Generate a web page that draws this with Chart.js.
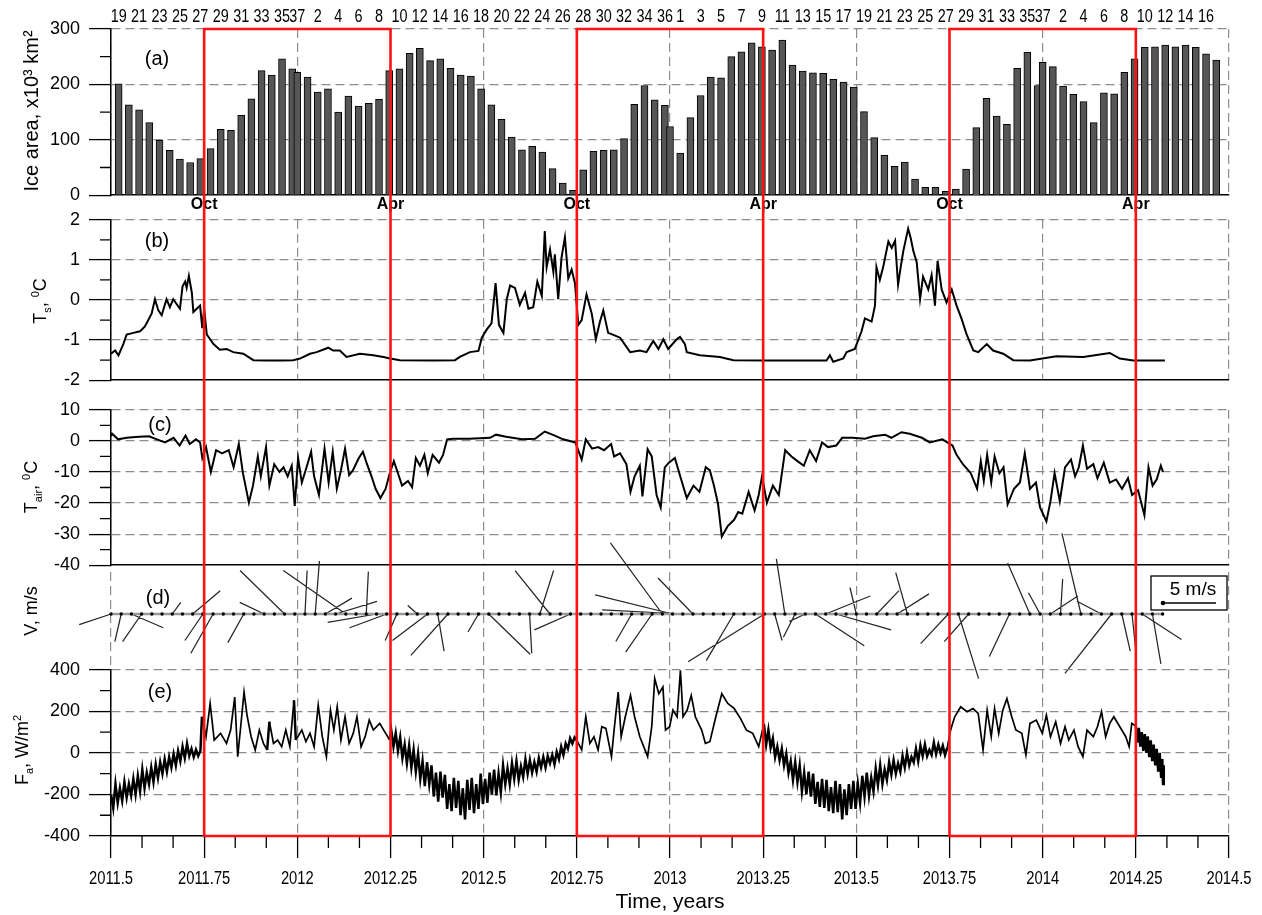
<!DOCTYPE html>
<html>
<head>
<meta charset="utf-8">
<title>Ice area, water and air temperature, wind and heat flux</title>
<script src="https://cdn.jsdelivr.net/npm/chart.js@4.4.1/dist/chart.umd.min.js"></script>
<style>
  html, body { margin: 0; padding: 0; background: #ffffff; }
  #wrap { position: relative; width: 1262px; height: 915px; overflow: hidden; background: #ffffff; }
  #wrap canvas { position: absolute; left: 0; }
</style>
</head>
<body>
<div id="wrap"></div>
<script>
// ======================= DATA =======================
const iceBlocks = [[2011, 19, 37], [2012, 1, 37], [2013, 1, 37], [2014, 1, 17]];
const iceArea = [
  201,163,154,131,99,81,65,59,66,84,119,117,144,174,225,217,246,228,222,
  213,186,192,150,179,161,166,173,225,228,256,265,243,246,229,217,215,192,163,137,105,82,88,78,48,22,9,46,79,81,82,102,164,198,172,162,124,
  76,140,180,213,212,250,259,275,268,262,280,235,224,221,220,209,204,195,151,104,72,52,60,29,14,14,7,11,47,122,175,143,128,229,258,198,240,
  232,197,182,169,131,185,183,222,246,267,268,271,268,271,267,255,244
];

const tsYear = [
  2011.500,2011.511,2011.520,2011.533,2011.542,2011.560,2011.578,2011.591,2011.609,2011.618,
  2011.627,2011.636,2011.649,2011.658,2011.667,2011.676,2011.685,2011.692,2011.699,2011.703,
  2011.709,2011.717,2011.721,2011.730,2011.739,2011.745,2011.750,2011.757,2011.775,2011.792,
  2011.810,2011.828,2011.855,2011.882,2011.918,2011.962,2011.989,2012.007,2012.034,2012.052,
  2012.083,2012.096,2012.114,2012.132,2012.168,2012.204,2012.231,2012.249,2012.275,
  2012.365,2012.423,2012.436,2012.463,2012.486,2012.495,2012.508,2012.521,2012.532,2012.541,
  2012.553,2012.562,2012.571,2012.584,2012.597,2012.611,2012.620,2012.633,2012.644,2012.656,
  2012.664,2012.669,2012.678,2012.687,2012.691,2012.700,2012.709,2012.718,2012.727,2012.736,
  2012.745,2012.754,2012.763,2012.776,2012.790,2012.801,2012.812,2012.821,2012.834,2012.848,
  2012.866,2012.893,2012.919,2012.937,2012.955,2012.969,2012.982,2012.995,2013.018,2013.027,
  2013.040,2013.045,2013.080,2013.134,2013.170,2013.259,2013.420,2013.429,2013.438,
  2013.465,2013.474,2013.496,2013.514,2013.523,2013.541,2013.550,2013.554,2013.563,2013.572,
  2013.586,2013.595,2013.604,2013.612,2013.619,2013.626,2013.639,2013.646,2013.653,2013.662,
  2013.671,2013.679,2013.693,2013.702,2013.711,2013.718,2013.729,2013.742,2013.756,2013.769,
  2013.782,2013.796,2013.814,2013.827,2013.850,2013.867,2013.894,2013.921,2013.966,2014.037,
  2014.109,2014.180,2014.207,2014.243,2014.328
];
const tsValue = [
  -1.34,-1.26,-1.38,-1.10,-0.86,-0.82,-0.78,-0.66,-0.34,0.02,
  -0.26,-0.38,0.02,-0.18,0.02,-0.10,-0.22,0.34,0.46,0.30,
  0.60,0.18,-0.30,-0.22,-0.14,-0.70,-0.22,-0.86,-1.10,-1.24,
  -1.22,-1.30,-1.34,-1.50,-1.51,-1.51,-1.50,-1.46,-1.34,-1.30,
  -1.19,-1.26,-1.26,-1.42,-1.34,-1.38,-1.42,-1.46,-1.50,
  -1.51,-1.50,-1.42,-1.30,-1.27,-0.94,-0.74,-0.58,0.42,-0.62,
  -0.82,0.02,0.36,0.30,-0.12,0.18,-0.22,-0.18,0.46,0.10,
  1.72,0.82,1.26,0.70,1.14,0.02,1.06,1.56,0.54,0.76,
  0.42,-0.62,-0.50,0.14,-0.34,-0.98,-0.54,-0.26,-0.82,-0.87,
  -0.94,-1.30,-1.26,-1.30,-1.02,-1.22,-0.98,-1.22,-0.98,-0.92,
  -1.10,-1.30,-1.38,-1.42,-1.50,-1.51,-1.51,-1.38,-1.54,
  -1.46,-1.30,-1.22,-0.78,-0.46,-0.54,-0.14,0.82,0.50,0.82,
  1.46,1.30,1.48,0.38,0.82,1.22,1.78,1.54,1.22,0.94,
  0.02,0.58,0.26,0.62,-0.14,0.98,0.26,-0.06,0.26,-0.14,
  -0.46,-0.86,-1.26,-1.30,-1.10,-1.26,-1.34,-1.50,-1.51,-1.40,
  -1.42,-1.32,-1.46,-1.51,-1.51
];

const tairYear = [
  2011.500,2011.503,2011.519,2011.542,2011.575,2011.602,2011.623,2011.645,2011.668,2011.684,
  2011.700,2011.711,2011.728,2011.739,2011.745,2011.755,2011.768,2011.782,2011.798,2011.816,
  2011.829,2011.843,2011.854,2011.870,2011.881,2011.894,2011.902,2011.916,2011.925,2011.938,
  2011.952,2011.963,2011.974,2011.985,2011.993,2012.002,2012.012,2012.026,2012.037,2012.045,
  2012.058,2012.073,2012.084,2012.095,2012.106,2012.117,2012.128,2012.139,2012.149,2012.165,
  2012.176,2012.187,2012.199,2012.210,2012.223,2012.237,2012.248,2012.259,2012.270,2012.281,
  2012.297,2012.308,2012.318,2012.329,2012.341,2012.350,2012.363,2012.380,2012.391,2012.402,
  2012.418,2012.461,2012.517,2012.533,2012.560,2012.603,2012.638,2012.664,2012.691,2012.713,
  2012.746,2012.763,2012.774,2012.791,2012.807,2012.823,2012.842,2012.850,2012.866,2012.883,
  2012.894,2012.905,2012.919,2012.926,2012.940,2012.951,2012.964,2012.975,2012.986,2012.997,
  2013.013,2013.029,2013.045,2013.063,2013.079,2013.096,2013.107,2013.118,2013.129,2013.139,
  2013.155,2013.172,2013.183,2013.194,2013.211,2013.227,2013.238,2013.247,2013.260,2013.276,
  2013.292,2013.309,2013.326,2013.342,2013.359,2013.375,2013.392,2013.408,2013.424,2013.446,
  2013.462,2013.490,2013.523,2013.545,2013.577,2013.594,2013.621,2013.643,2013.676,2013.697,
  2013.731,2013.742,2013.758,2013.769,2013.786,2013.807,2013.824,2013.834,2013.842,2013.851,
  2013.862,2013.871,2013.884,2013.895,2013.906,2013.923,2013.939,2013.952,2013.966,2013.982,
  2013.993,2014.010,2014.021,2014.032,2014.046,2014.060,2014.076,2014.087,2014.097,2014.108,
  2014.119,2014.136,2014.147,2014.164,2014.180,2014.197,2014.213,2014.229,2014.240,2014.256,
  2014.273,2014.284,2014.295,2014.306,2014.317,2014.323
];
const tairValue = [
  1.5,2.3,0.5,1.0,1.3,1.5,0.5,-0.5,1.0,-1.5,
  1.7,-1.0,0.5,-0.5,-5.5,-2.0,-10.0,-3.0,-4.0,-3.0,
  -8.5,-1.0,-10.4,-19.9,-14.4,-5.0,-11.4,-2.0,-14.4,-7.5,
  -10.0,-8.5,-11.4,-8.0,-20.9,-5.5,-13.4,-8.0,-3.5,-11.4,
  -17.4,-2.5,-13.4,-3.5,-15.4,-9.5,-2.5,-11.0,-9.5,-5.5,
  -3.5,-7.5,-11.4,-15.4,-18.4,-15.4,-10.4,-6.5,-10.4,-14.4,
  -12.9,-14.9,-5.5,-8.0,-4.5,-10.4,-4.5,-7.0,-4.5,0.5,
  0.7,0.7,1.0,2.0,1.3,0.5,0.7,3.0,1.7,0.5,
  -0.5,-6.0,0.5,-2.5,-2.0,-3.0,-1.0,-5.0,-4.0,-7.5,
  -16.4,-11.4,-8.0,-17.9,-2.7,-5.0,-17.4,-21.4,-8.5,-7.0,
  -5.5,-12.0,-18.4,-14.4,-16.4,-8.5,-9.5,-14.4,-20.4,-30.8,
  -27.4,-25.4,-22.9,-23.4,-16.4,-22.4,-17.4,-11.4,-19.9,-14.4,
  -17.4,-3.0,-5.0,-6.5,-8.0,-3.0,-6.5,-0.5,-2.0,-1.5,
  1.0,1.0,0.7,1.5,2.0,1.0,2.8,2.3,1.0,-0.5,
  0.5,-0.3,-1.5,-4.5,-7.5,-10.4,-15.4,-6.5,-12.9,-4.5,
  -13.4,-5.0,-10.4,-8.5,-20.4,-15.4,-13.4,-4.0,-15.4,-13.4,
  -21.4,-25.9,-19.4,-10.4,-19.4,-8.5,-6.0,-11.4,-8.5,-1.5,
  -9.0,-7.5,-12.0,-7.0,-13.4,-12.4,-15.4,-12.0,-17.4,-15.9,
  -23.9,-8.5,-14.4,-12.4,-8.0,-10.0
];

const windStart = 2011.5;
const windStepDays = 10;
const windU = [
  -3.0,-0.6,3.0,-1.8,0,0,0.8,0,2.6,-1.7,
  -2.1,0,0,-1.5,0,-2.3,0,-4.2,0,0.2,
  0.4,2.5,3.9,-5.9,0,0.2,-4.6,-3.5,-1.1,0,
  -0.9,-3.3,0.6,-3.5,0,0,-1.0,3.9,0,0,
  0,0.2,1.3,-3.3,0,-3.4,0,0,0,0,
  0,-1.5,0,-2.5,-4.9,-7.3,-7.6,-3.3,0,0,
  0,-2.6,0,0,-7.2,0.7,-0.8,-1.1,-1.5,4.6,
  4.2,5.2,0,-0.6,0,2.1,0,3.0,-1.1,0,
  0,0,-2.6,1.9,-2.3,0,0,0,-1.9,0,
  -2.1,-1.1,2.6,0.2,0,-1.8,0,-2.3,-4.4,0.8,
  0.4,3.7,0.8,0
];
const windV = [
  -1.0,-2.6,-1.3,-2.6,0,0,1.1,0,2.2,-2.5,
  -3.7,0,0,-2.7,0,1.1,0,4.1,0,4.1,
  5.0,1.5,1.2,4.1,0,4.0,-0.8,-1.3,-2.5,0,
  0.8,-2.5,-3.5,-3.9,0,0,-1.7,-3.8,0,0,
  0,-3.7,4.1,4.1,0,-1.5,0,0,0,0,
  0,-2.6,0,-3.6,6.7,1.8,0.4,3.4,0,0,
  0,-4.4,0,0,-4.5,-2.5,5.2,-2.2,-0.7,-3.0,
  1.7,-1.5,0,2.5,0,2.2,0,1.9,3.9,0,
  0,0,-2.8,-6.1,-2.6,0,0,0,-4.0,0,
  4.8,2.0,1.7,3.3,0,7.6,0,1.2,-5.6,-3.5,
  -3.8,-2.4,-4.7,0
];

const faDenseStep = 0.006;
const faDense1Start = 2011.500;
const faDense1 = [
  -200,-265,-150,-240,-170,-230,-140,-215,-150,-205,
  -125,-200,-110,-185,-80,-170,-95,-150,-70,-140,
  -55,-120,-45,-100,-30,-90,-20,-70,-5,-60,
  10,-40,30,-25,45,-15,20,-20,15,-15,
  10
];
const faWinter1Year = [
  2011.744,2011.755,2011.766,2011.777,2011.794,2011.810,2011.821,2011.832,2011.840,2011.848,
  2011.857,2011.865,2011.876,2011.887,2011.898,2011.909,2011.919,2011.925,2011.936,2011.947,
  2011.958,2011.969,2011.980,2011.991,2011.996,2012.012,2012.023,2012.034,2012.045,2012.056,
  2012.067,2012.078,2012.089,2012.098,2012.107,2012.117,2012.128,2012.139,2012.150,2012.160,
  2012.171,2012.182,2012.193,2012.204,2012.221,2012.237,2012.248
];
const faWinter1 = [
  174,78,238,62,94,46,110,269,-18,126,
  293,182,78,14,110,46,14,150,46,62,
  30,110,30,253,62,110,54,94,30,230,
  78,-18,206,110,222,62,174,46,94,174,
  30,78,158,110,142,94,62
];
const faDense2Start = 2012.252;
const faDense2 = [
  110,30,95,10,75,-25,40,-50,35,-70,
  15,-90,-5,-125,-40,-160,-45,-150,-60,-210,
  -95,-235,-90,-215,-105,-270,-150,-280,-120,-265,
  -135,-300,-170,-320,-130,-275,-120,-290,-150,-270,
  -100,-245,-125,-240,-95,-200,-80,-205,-100,-190,
  -60,-150,-75,-150,-50,-125,-40,-130,-65,-115,
  -30,-100,-35,-95,-45,-90,-25,-70,-20,-70,
  -15,-50,-10,-55,5,-30,30,-10,45,20,
  70,45,75,60
];
const faWinter2Year = [
  2012.763,2012.774,2012.785,2012.796,2012.807,2012.817,2012.828,2012.843,2012.850,2012.861,
  2012.869,2012.880,2012.894,2012.905,2012.919,2012.940,2012.951,2012.959,2012.970,2012.981,
  2012.988,2012.999,2013.008,2013.019,2013.028,2013.035,2013.046,2013.057,2013.068,2013.085,
  2013.095,2013.107,2013.123,2013.139,2013.155,2013.172,2013.189,2013.205,2013.222,2013.238
];
const faWinter2 = [
  14,174,46,78,14,126,118,-18,110,293,
  78,174,277,174,78,-18,126,357,285,317,
  110,126,206,174,397,174,206,277,174,110,
  46,54,174,285,238,214,166,110,94,30
];
const faDense3Start = 2013.252;
const faDense3 = [
  140,40,110,25,70,-20,30,-35,20,-60,
  -5,-95,-40,-130,-45,-140,-60,-185,-95,-200,
  -90,-210,-100,-245,-140,-260,-125,-265,-130,-280,
  -165,-290,-135,-285,-150,-320,-175,-300,-150,-270,
  -135,-270,-150,-240,-110,-210,-95,-205,-120,-185,
  -75,-155,-60,-150,-80,-130,-45,-105,-35,-100,
  -50,-90,-15,-70,0,-60,-20,-45,20,-40,
  35,-15,40,-15,15,-10,50,-5,40,0,
  35,-10,25
];
const faWinter3Year = [
  2013.753,2013.764,2013.780,2013.797,2013.813,2013.827,2013.840,2013.851,2013.862,2013.871,
  2013.882,2013.893,2013.904,2013.917,2013.928,2013.944,2013.955,2013.966,2013.983,2013.999,
  2014.010,2014.021,2014.035,2014.048,2014.060,2014.070,2014.084,2014.095,2014.108,2014.119,
  2014.136,2014.147,2014.158,2014.169,2014.180,2014.191,2014.207,2014.223,2014.232,2014.239
];
const faWinter3 = [
  110,174,222,198,214,190,14,206,78,214,
  94,206,261,174,110,94,-10,142,158,94,
  182,78,150,46,126,62,110,30,-18,110,
  78,126,198,78,142,174,126,78,30,142
];
const faTailYear = [
  2014.250,2014.254,2014.258,2014.262,2014.266,2014.270,2014.274,2014.278,2014.282,2014.286,
  2014.290,2014.294,2014.298,2014.302,2014.306,2014.310,2014.314,2014.318,2014.321,2014.323,2014.325
];
const faTail = [130,50,120,30,100,10,90,0,80,-20,60,-40,40,-60,20,-90,0,-120,-30,-150,-60];

const gridYears = [2011.5, 2012, 2012.5, 2013, 2013.5, 2014, 2014.5];
const yearTicks = [2011.5, 2011.75, 2012, 2012.25, 2012.5, 2012.75, 2013, 2013.25, 2013.5, 2013.75, 2014, 2014.25, 2014.5];
const seasonTicks = [2011.75, 2012.25, 2012.75, 2013.25, 2013.75, 2014.25];
const seasonLabels = ['Oct', 'Apr', 'Oct', 'Apr', 'Oct', 'Apr'];
const redPeriods = [[2011.75, 2012.25], [2012.75, 2013.25], [2013.75, 2014.25]];

// ======================= LAYOUT / STYLE =======================
const W = 1262, PLOT_L = 111, PLOT_R = 1229;
const X_MIN = 2011.5, X_MAX = 2014.5;
const GRID = '#8c8c8c', DASH = [9, 5], RED = '#ff1212';
const SANS = '"Liberation Sans", Arial, Helvetica, sans-serif';
const yTickFont = { family: SANS, size: 18 };

Chart.defaults.font.family = SANS;
Chart.defaults.color = '#000';

const iceX = [], iceLabel = [];
iceBlocks.forEach(([yr, p0, p1]) => {
  for (let p = p0; p <= p1; p++) { iceX.push(yr + Math.min(10 * p, 365) / 365); iceLabel.push(p); }
});
const windT = windU.map((_, i) => windStart + i * windStepDays / 365);
const halfYear = v => Math.abs(v * 2 - Math.round(v * 2)) < 1e-6;
const months = [];
for (let k = 0; k <= 36; k++) if (k % 3 !== 0) months.push(X_MIN + k / 12);

const faPoints = [];
const addDense = (start, vals) => vals.forEach((v, i) => faPoints.push({ x: +(start + i * faDenseStep).toFixed(4), y: v }));
const addSparse = (yrs, vals) => yrs.forEach((x, i) => faPoints.push({ x: x, y: vals[i] }));
addDense(faDense1Start, faDense1);
addSparse(faWinter1Year, faWinter1);
addDense(faDense2Start, faDense2);
addSparse(faWinter2Year, faWinter2);
addDense(faDense3Start, faDense3);
addSparse(faWinter3Year, faWinter3);
addSparse(faTailYear, faTail);

// ======================= PLUGIN =======================
function drawRich(ctx, cx, cy, parts, size) {
  ctx.save();
  ctx.translate(cx, cy);
  ctx.rotate(-Math.PI / 2);
  ctx.fillStyle = '#000';
  ctx.textBaseline = 'alphabetic';
  ctx.textAlign = 'left';
  const f = p => (p[1] ? Math.round(size * 0.62) : size) + 'px ' + SANS;
  let total = 0;
  parts.forEach(p => { ctx.font = f(p); total += ctx.measureText(p[0]).width; });
  let x = -total / 2;
  const base = size * 0.36;
  parts.forEach(p => {
    ctx.font = f(p);
    const dy = p[1] === 'sub' ? size * 0.26 : (p[1] === 'sup' ? -size * 0.4 : 0);
    ctx.fillText(p[0], x, base + dy);
    x += ctx.measureText(p[0]).width;
  });
  ctx.restore();
}

function drawNarrowLabels(ctx, scale, values, labels, y, size, sx) {
  ctx.save();
  ctx.fillStyle = '#000';
  ctx.font = size + 'px ' + SANS;
  ctx.textAlign = 'center';
  ctx.textBaseline = 'middle';
  values.forEach((v, i) => {
    const px = scale.getPixelForValue(v);
    ctx.save();
    ctx.translate(px, y);
    ctx.scale(sx, 1);
    ctx.fillText(labels[i], 0, 0);
    ctx.restore();
  });
  ctx.restore();
}

const decor = {
  id: 'decor',
  afterDraw(chart) {
    const d = chart.canvas._decor;
    if (!d) return;
    const ctx = chart.ctx, ca = chart.chartArea, xs = chart.scales.x, T = d.top;
    ctx.save();
    ctx.setLineDash([]);
    (d.minor || []).forEach(m => {
      const sc = chart.scales[m.axis];
      ctx.strokeStyle = '#000';
      ctx.lineWidth = 1.3;
      ctx.beginPath();
      m.values.forEach(v => {
        const p = sc.getPixelForValue(v);
        if (sc.isHorizontal()) { ctx.moveTo(p, ca.bottom); ctx.lineTo(p, ca.bottom + m.len); }
        else { ctx.moveTo(ca.left - m.len, p); ctx.lineTo(ca.left, p); }
      });
      ctx.stroke();
    });
    (d.narrow || []).forEach(n => {
      drawNarrowLabels(ctx, chart.scales[n.axis], n.values, n.labels, n.y - T, n.size, n.sx);
    });
    if (d.windLegend) {
      const ys = chart.scales.y;
      const pxPerMs = ys.getPixelForValue(0) - ys.getPixelForValue(1);
      ctx.fillStyle = '#fff';
      ctx.fillRect(1151, 576 - T, 76, 34);
      ctx.strokeStyle = '#000'; ctx.lineWidth = 1.3;
      ctx.strokeRect(1151, 576 - T, 76, 34);
      ctx.fillStyle = '#000';
      ctx.font = '19px ' + SANS; ctx.textAlign = 'center'; ctx.textBaseline = 'middle';
      ctx.fillText('5 m/s', 1193, 590 - T);
      ctx.lineWidth = 1.6;
      ctx.beginPath(); ctx.moveTo(1163, 603 - T); ctx.lineTo(1163 + 5 * pxPerMs, 603 - T); ctx.stroke();
      ctx.beginPath(); ctx.arc(1163, 603 - T, 2.3, 0, Math.PI * 2); ctx.fill();
    }
    if (d.red) {
      ctx.strokeStyle = RED; ctx.lineWidth = 2.6; ctx.lineCap = 'butt';
      const y0 = d.red[0] - T, y1 = d.red[1] - T;
      redPeriods.forEach(([a, b]) => {
        const xa = xs.getPixelForValue(a), xb = xs.getPixelForValue(b);
        ctx.beginPath();
        ctx.moveTo(xa, y0); ctx.lineTo(xa, y1);
        ctx.moveTo(xb, y0); ctx.lineTo(xb, y1);
        ctx.stroke();
        if (d.redTop) { ctx.beginPath(); ctx.moveTo(xa - 1.3, y0); ctx.lineTo(xb + 1.3, y0); ctx.stroke(); }
        if (d.redBottom) { ctx.beginPath(); ctx.moveTo(xa - 1.3, y1); ctx.lineTo(xb + 1.3, y1); ctx.stroke(); }
      });
    }
    if (d.title) drawRich(ctx, d.title.x, d.title.y - T, d.title.parts, d.title.size || 18);
    if (d.label) {
      ctx.fillStyle = '#000'; ctx.font = '20px ' + SANS;
      ctx.textAlign = 'center'; ctx.textBaseline = 'middle';
      ctx.fillText(d.label[0], d.label[1], d.label[2] - T);
    }
    ctx.restore();
  }
};
Chart.register(decor);

// ======================= HELPERS =======================
const wrap = document.getElementById('wrap');
function makeCanvas(top, height, decorCfg) {
  const c = document.createElement('canvas');
  c.width = W; c.height = height;
  c.style.top = top + 'px';
  c.style.width = W + 'px'; c.style.height = height + 'px';
  decorCfg.top = top;
  c._decor = decorCfg;
  wrap.appendChild(c);
  return c;
}
function baseOptions(padTop) {
  return {
    responsive: false, animation: false, devicePixelRatio: 1, events: [],
    layout: { padding: { top: padTop, right: W - PLOT_R, left: 0, bottom: 0 } },
    plugins: { legend: { display: false }, tooltip: { enabled: false }, title: { display: false } }
  };
}
function xGridScale(h, extra) {
  return Object.assign({
    type: 'linear', position: 'bottom', min: X_MIN, max: X_MAX, offset: false, weight: 0,
    afterBuildTicks: s => { s.ticks = gridYears.map(v => ({ value: v })); },
    ticks: { display: false },
    grid: { display: true, color: GRID, lineWidth: 1.2, drawTicks: false, offset: false },
    border: { display: true, color: '#000', width: 1.5, dash: DASH },
    afterFit: s => { s.height = h; }
  }, extra || {});
}
function yScale(min, max, step, extra) {
  return Object.assign({
    type: 'linear', position: 'left', min: min, max: max,
    ticks: { stepSize: step, color: '#000', font: yTickFont, padding: 9 },
    grid: {
      color: c => (c.tick && Math.abs(c.tick.value - min) < 1e-9) ? 'rgba(0,0,0,0)' : GRID,
      lineWidth: 1.2, tickLength: 22, tickColor: '#000', tickWidth: 1.3, tickBorderDash: []
    },
    border: { display: true, color: '#000', width: 1.5, dash: DASH },
    afterFit: s => { s.width = PLOT_L; }
  }, extra || {});
}
const xy = (xs, vs) => xs.map((x, i) => ({ x: x, y: vs[i] }));

// ======================= (a) ICE AREA =======================
{
  const topVals = iceX.filter((_, i) => i % 2 === 0);
  const topLabs = iceLabel.filter((_, i) => i % 2 === 0).map(String);
  const c = makeCanvas(0, 215, {
    red: [29, 212], redTop: true,
    minor: [{ axis: 'y', values: [50, 150, 250], len: 11 }],
    narrow: [{ axis: 'xt', values: topVals, labels: topLabs, y: 17, size: 18, sx: 0.8 }],
    title: { x: 31, y: 111, parts: [['Ice area, x10³ km²', '']], size: 20 },
    label: ['(a)', 157, 59]
  });
  const o = baseOptions(0);
  o.scales = {
    x: xGridScale(0),
    xm: {
      type: 'linear', position: 'bottom', min: X_MIN, max: X_MAX, offset: false, weight: 1,
      afterBuildTicks: s => { s.ticks = seasonTicks.map(v => ({ value: v })); },
      ticks: { font: { family: SANS, size: 16, weight: 'bold' }, color: '#000', padding: 0,
               autoSkip: false, maxRotation: 0, minRotation: 0, callback: (v, i) => seasonLabels[i] },
      grid: { display: false, drawTicks: false },
      border: { display: false },
      afterFit: s => { s.height = 18; }
    },
    xt: {
      type: 'linear', position: 'top', min: X_MIN, max: X_MAX, offset: false,
      afterBuildTicks: s => { s.ticks = topVals.map(v => ({ value: v })); },
      ticks: { display: false },
      grid: { display: false, drawTicks: false },
      border: { display: false },
      afterFit: s => { s.height = 29; }
    },
    y: yScale(0, 300, 100)
  };
  new Chart(c, {
    type: 'bar',
    data: { datasets: [{
      data: xy(iceX, iceArea), backgroundColor: '#565656', borderColor: '#000', borderWidth: 1,
      barThickness: 7, xAxisID: 'x', yAxisID: 'y'
    }] },
    options: o
  });
}

// ======================= (b) Ts =======================
{
  const c = makeCanvas(200, 200, {
    red: [212, 395],
    minor: [{ axis: 'y', values: [1.5, 0.5, -0.5, -1.5], len: 11 }],
    title: { x: 40, y: 301, parts: [['T', ''], ['s', 'sub'], [', ', ''], ['0', 'sup'], ['C', '']] },
    label: ['(b)', 157, 241]
  });
  const o = baseOptions(17);
  o.scales = { x: xGridScale(15), y: yScale(-2, 2, 1) };
  new Chart(c, {
    type: 'line',
    data: { datasets: [{ data: xy(tsYear, tsValue), borderColor: '#000', borderWidth: 2, pointRadius: 0, tension: 0 }] },
    options: o
  });
}

// ======================= (c) Tair =======================
{
  const c = makeCanvas(390, 195, {
    red: [395, 572],
    minor: [{ axis: 'y', values: [5, -5, -15, -25, -35], len: 11 }],
    title: { x: 31, y: 487, parts: [['T', ''], ['air', 'sub'], [', ', ''], ['0', 'sup'], ['C', '']] },
    label: ['(c)', 160, 425]
  });
  const o = baseOptions(15);
  o.scales = { x: xGridScale(13), y: yScale(-40, 10, 10) };
  new Chart(c, {
    type: 'line',
    data: { datasets: [{ data: xy(tairYear, tairValue), borderColor: '#000', borderWidth: 2, pointRadius: 0, tension: 0 }] },
    options: o
  });
}

// ======================= (d) WIND =======================
{
  const D_TOP = 572, D_BOT = 668, D_BASE = 614, PX_PER_MS = 10.6;
  const yMax = (D_BASE - D_TOP) / PX_PER_MS, yMin = -(D_BOT - D_BASE) / PX_PER_MS;
  const yearsPerMs = PX_PER_MS / ((PLOT_R - PLOT_L) / (X_MAX - X_MIN));
  const sticks = [];
  windT.forEach((t, i) => {
    sticks.push({ x: t, y: 0 }, { x: t + windU[i] * yearsPerMs, y: windV[i] }, { x: t, y: null });
  });
  const c = makeCanvas(520, 170, {
    red: [572, 668], windLegend: true,
    title: { x: 31, y: 611, parts: [['V, m/s', '']] },
    label: ['(d)', 158, 598]
  });
  const o = baseOptions(52);
  o.scales = {
    x: xGridScale(22, { border: { display: false, dash: DASH } }),
    y: { type: 'linear', position: 'left', min: yMin, max: yMax,
         ticks: { display: false }, grid: { display: false, drawTicks: false }, border: { display: false },
         afterFit: s => { s.width = PLOT_L; } }
  };
  new Chart(c, {
    type: 'line',
    data: { datasets: [
      { data: windT.map(t => ({ x: t, y: 0 })), borderColor: '#9a9a9a', borderWidth: 2.4,
        pointRadius: 1.7, pointBackgroundColor: '#000', pointBorderWidth: 0, clip: false },
      { data: sticks, borderColor: '#262626', borderWidth: 1.25, pointRadius: 0, spanGaps: false, clip: false }
    ] },
    options: o
  });
}

// ======================= (e) Fa =======================
{
  const c = makeCanvas(650, 265, {
    red: [668, 836], redBottom: true,
    minor: [{ axis: 'y', values: [300, 100, -100, -300], len: 11 }, { axis: 'x', values: months, len: 12 }],
    narrow: [{ axis: 'x', values: yearTicks, labels: yearTicks.map(String), y: 879, size: 18, sx: 0.82 }],
    title: { x: 22, y: 750, parts: [['F', ''], ['a', 'sub'], [', W/m', ''], ['2', 'sup']] },
    label: ['(e)', 160, 692]
  });
  const o = baseOptions(18);
  o.scales = {
    x: {
      type: 'linear', position: 'bottom', min: X_MIN, max: X_MAX, offset: false,
      afterBuildTicks: s => { s.ticks = yearTicks.map(v => ({ value: v })); },
      ticks: { display: false },
      grid: { color: c2 => (c2.tick && halfYear(c2.tick.value)) ? GRID : 'rgba(0,0,0,0)',
              lineWidth: 1.2, drawTicks: true, tickLength: 22, tickColor: '#000', tickWidth: 1.3, tickBorderDash: [] },
      border: { display: true, color: '#000', width: 1.5, dash: DASH },
      title: { display: true, text: 'Time, years', font: { family: SANS, size: 21 }, color: '#000', padding: { top: 0, bottom: 0 } },
      afterFit: s => { s.height = 79; }
    },
    y: yScale(-400, 400, 200)
  };
  new Chart(c, {
    type: 'line',
    data: { datasets: [{
      data: faPoints, borderColor: '#000', borderWidth: 1.7, pointRadius: 0, tension: 0,
      segment: { borderWidth: s => (s.p1.parsed.x - s.p0.parsed.x) < 0.0065 ? 2.5 : 1.7 }
    }] },
    options: o
  });
}
</script>
</body>
</html>
